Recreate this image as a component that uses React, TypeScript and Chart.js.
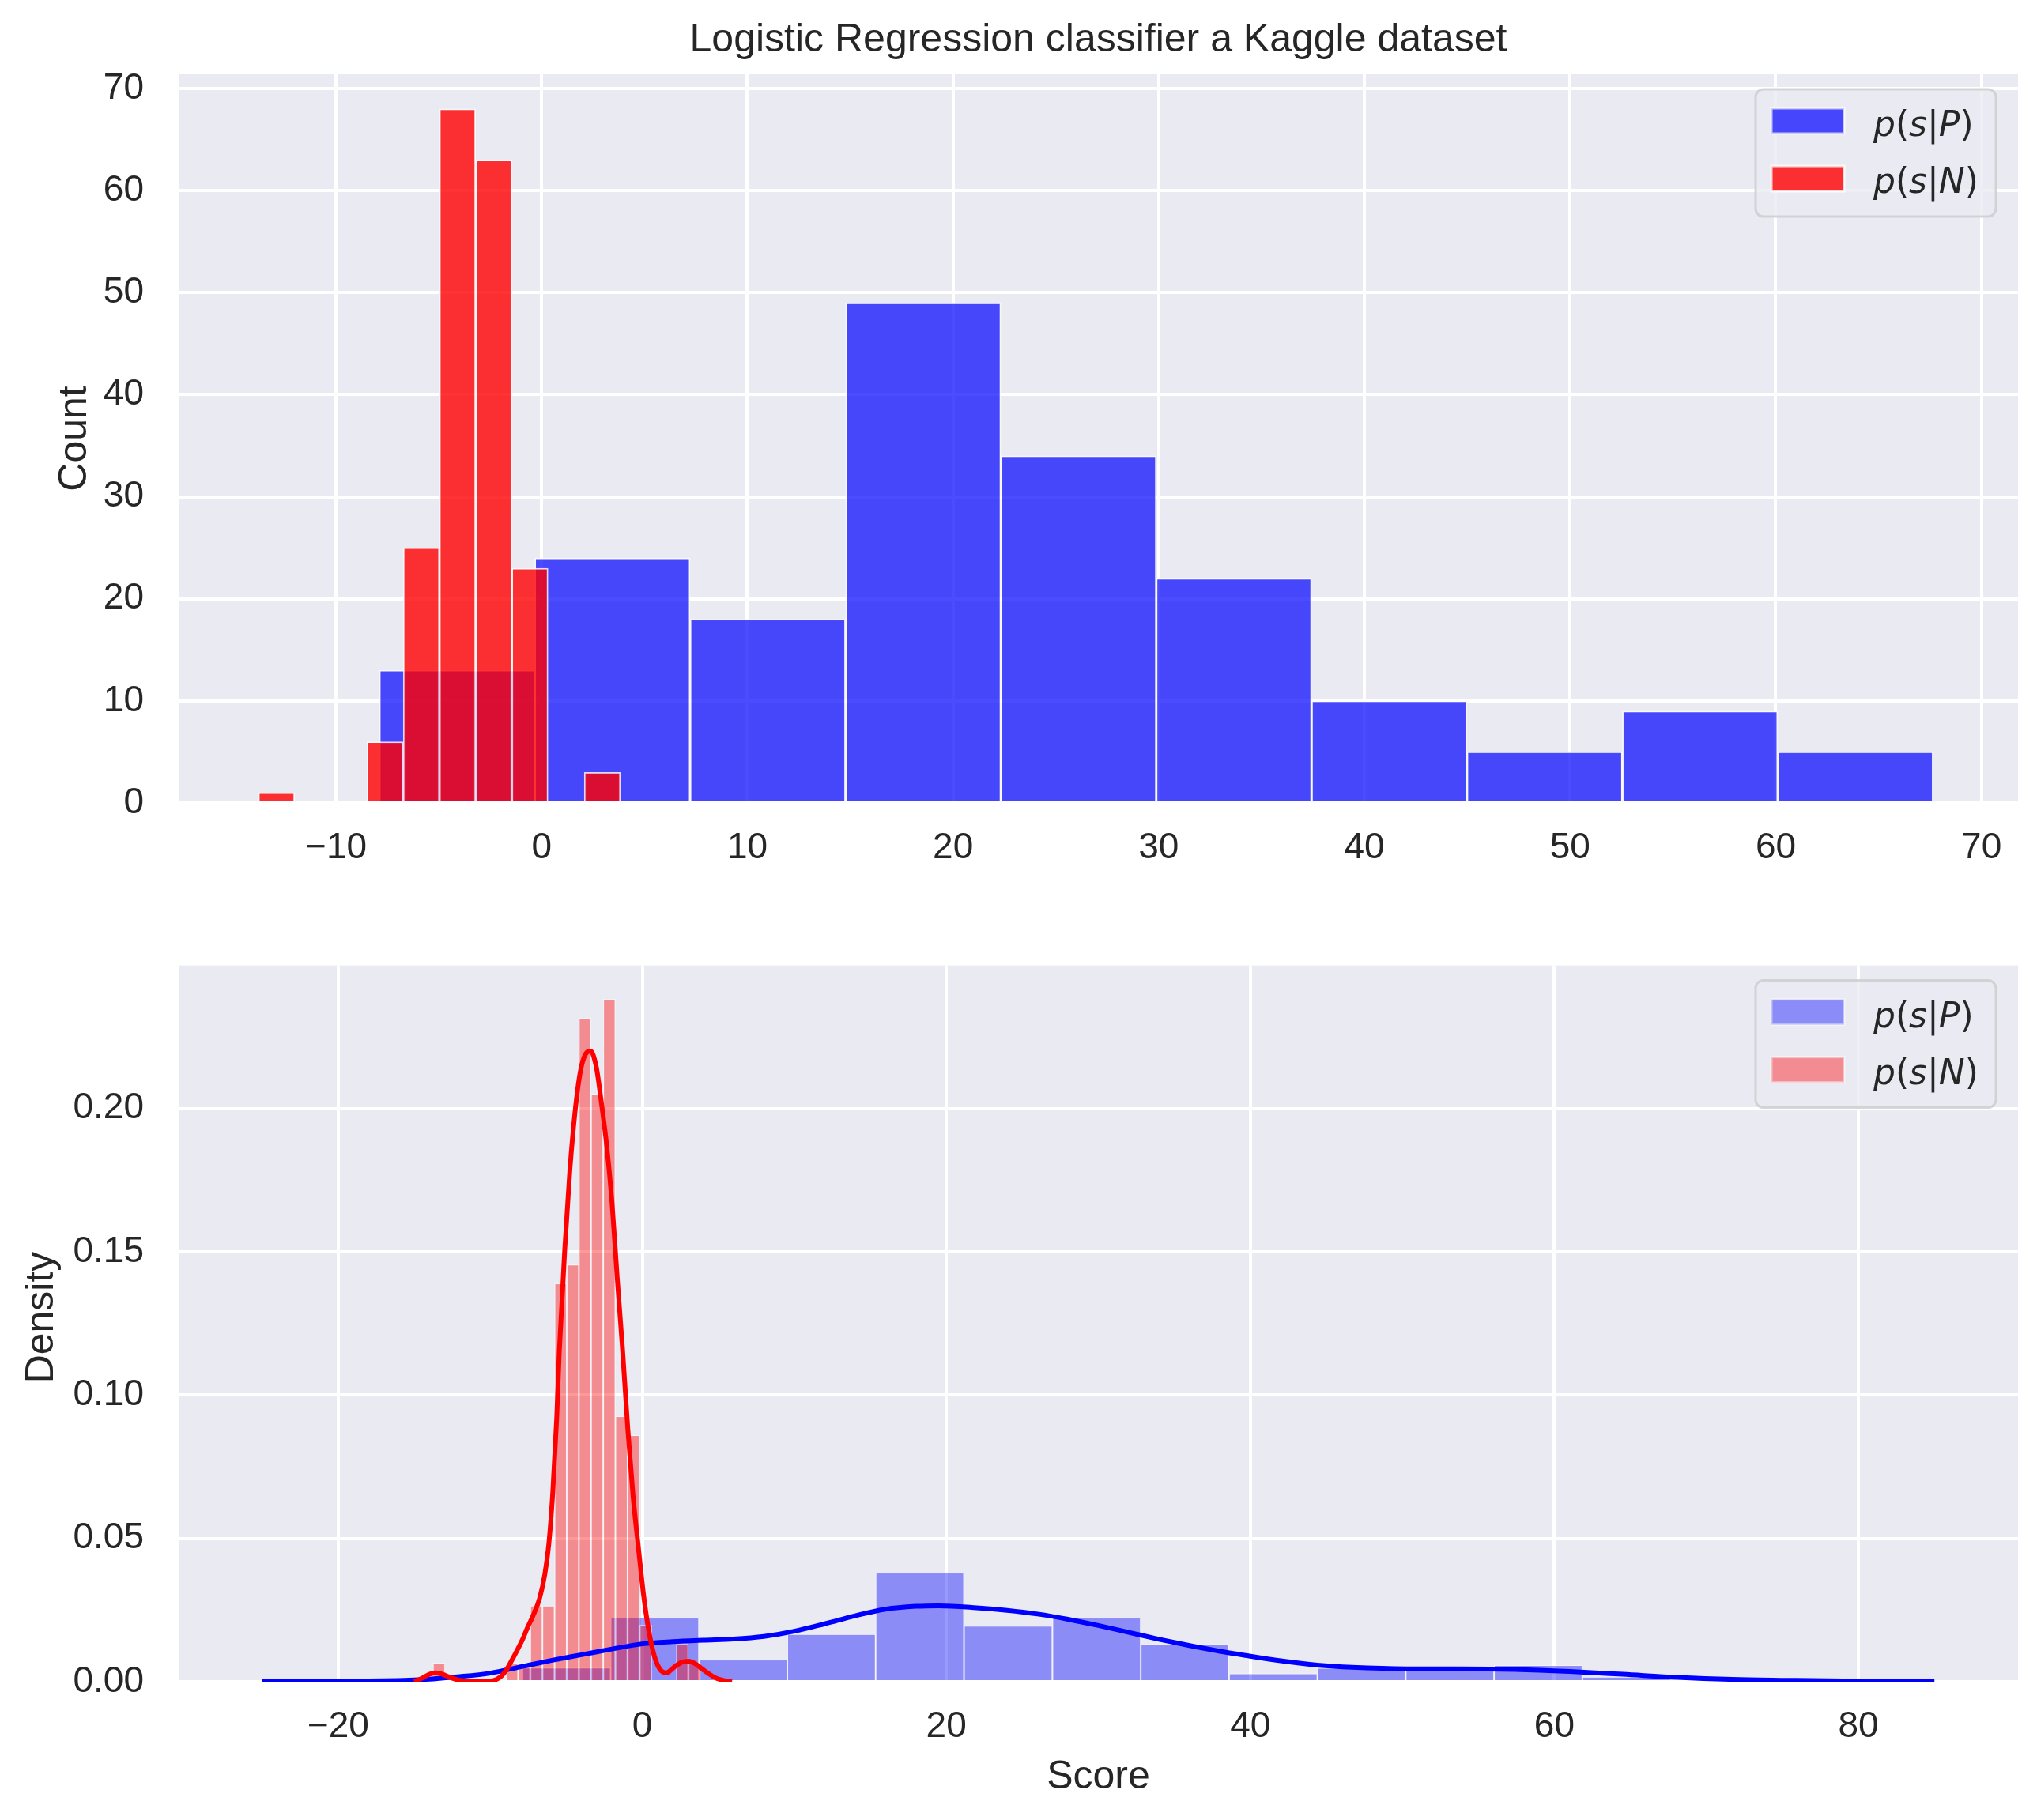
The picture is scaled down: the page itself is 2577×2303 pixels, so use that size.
import { useEffect, useRef } from "react";
import { Chart, registerables } from "chart.js";

Chart.register(...registerables);

// ---- top panel: histplot counts ----
const topBlueEdges = [-7.89, -0.34, 7.22, 14.77, 22.33, 29.88, 37.43, 44.99, 52.54, 60.1, 67.65];
const topBlueCounts = [13, 24, 18, 49, 34, 22, 10, 5, 9, 5];
const topRedEdges = [-13.77, -12.01, -10.25, -8.49, -6.73, -4.97, -3.21, -1.45, 0.31, 2.07, 3.83];
const topRedCounts = [1, 0, 0, 6, 25, 68, 63, 23, 0, 3];
const topXTicks = [-10, 0, 10, 20, 30, 40, 50, 60, 70];
const topYTicks = [0, 10, 20, 30, 40, 50, 60, 70];

// ---- bottom panel: distplot densities + kde ----
const botBlueEdges = [-7.89, -2.08, 3.73, 9.54, 15.35, 21.16, 26.98, 32.79, 38.6, 44.41, 50.22, 56.03, 61.84, 67.65];
const botBlueDensity = [0.0049, 0.0223, 0.0077, 0.0166, 0.038, 0.0195, 0.0223, 0.0131, 0.0029, 0.0048, 0.0045, 0.0058, 0.0017];
const botRedEdges = [
  -13.77, -12.97, -12.17, -11.37, -10.57, -9.77, -8.97, -8.17, -7.37, -6.57, -5.77, -4.97,
  -4.17, -3.37, -2.57, -1.77, -0.97, -0.17, 0.63, 1.43, 2.23, 3.03, 3.83,
];
const botRedDensity = [
  0.0066, 0, 0, 0, 0, 0, 0.0066, 0.0066, 0.0265, 0.0265, 0.1389, 0.1455, 0.2315, 0.205, 0.2381,
  0.0926, 0.086, 0.0198, 0, 0, 0.0132, 0.0066,
];
const blueKdeX = [-25, -20, -15, -12, -10, -8, -6, -4, -2, 0, 2, 4, 6, 8, 10, 12, 14, 16, 18, 19.5, 22, 24, 26, 28, 30, 32, 34, 36, 38, 40, 42, 44.4, 46.7, 50.3, 53.8, 57.4, 61, 64.5, 68.1, 71.7, 75.3, 80, 85];
const blueKdeY = [0, 0.0002, 0.0006, 0.0018, 0.003, 0.0052, 0.0074, 0.0094, 0.0114, 0.0132, 0.014, 0.0145, 0.0149, 0.0158, 0.0176, 0.0202, 0.023, 0.0253, 0.0263, 0.0265, 0.0258, 0.0249, 0.0236, 0.0218, 0.0196, 0.0172, 0.0148, 0.0126, 0.0106, 0.0089, 0.0073, 0.0058, 0.005, 0.0045, 0.0045, 0.0043, 0.0036, 0.0026, 0.0015, 0.0008, 0.0005, 0.0002, 0.0001];
const redKdeX = [-15, -14.5, -14, -13.6, -13.2, -12.6, -12, -11, -10, -9.6, -9.27, -8.93, -8.58, -8.23, -7.89, -7.54, -7.19, -6.76, -6.41, -6.15, -5.89, -5.63, -5.46, -5.11, -4.77, -4.42, -4.07, -3.73, -3.41, -3.03, -2.69, -2.34, -1.99, -1.65, -1.3, -0.95, -0.61, -0.26, 0.09, 0.43, 0.78, 1.13, 1.56, 2.17, 2.6, 3.03, 3.45, 3.9, 4.77, 5.4, 5.9];
const redKdeY = [0, 0.0012, 0.0026, 0.0031, 0.0027, 0.0014, 0.0005, 0.0001, 0.0002, 0.0008, 0.002, 0.0042, 0.0075, 0.011, 0.0146, 0.019, 0.023, 0.029, 0.0375, 0.048, 0.066, 0.092, 0.115, 0.15, 0.178, 0.199, 0.213, 0.219, 0.22, 0.2146, 0.202, 0.187, 0.167, 0.141, 0.116, 0.088, 0.065, 0.047, 0.03, 0.0177, 0.0092, 0.0046, 0.0031, 0.0054, 0.0068, 0.0072, 0.0064, 0.0046, 0.0015, 0.0004, 0];
const botXTicks = [-20, 0, 20, 40, 60, 80];
const botYTicks = [0, 0.05, 0.1, 0.15, 0.2];

const SANS = '"Liberation Sans", Arial, sans-serif';
const MATH = '"DejaVu Sans", sans-serif';
const INK = "#262626";

const bins = (edges: number[], heights: number[]) =>
  heights
    .map((y, i) => ({ x: (edges[i] + edges[i + 1]) / 2, y }))
    .filter((p) => p.y > 0);

const curve = (xs: number[], ys: number[]) => xs.map((x, i) => ({ x, y: ys[i] }));

const fmt = (v: number, digits: number) => (v < 0 ? "\u2212" : "") + Math.abs(v).toFixed(digits);

const panelBackground = {
  id: "panelBackground",
  beforeDraw(chart: any) {
    const { ctx, chartArea: a } = chart;
    ctx.save();
    ctx.fillStyle = "#EAEAF2";
    ctx.fillRect(a.left, a.top, a.right - a.left, a.bottom - a.top);
    ctx.restore();
  },
};

type Label = { text: string; x: number; y: number; size: number; rotate?: boolean };

function textPlugin(labels: Label[]) {
  return {
    id: "figureText",
    afterDraw(chart: any) {
      const ctx = chart.ctx;
      ctx.save();
      ctx.fillStyle = INK;
      ctx.textAlign = "center";
      ctx.textBaseline = "alphabetic";
      for (const l of labels) {
        ctx.font = `${l.size}px ${SANS}`;
        ctx.save();
        ctx.translate(l.x, l.y);
        if (l.rotate) ctx.rotate(-Math.PI / 2);
        ctx.fillText(l.text, 0, 0);
        ctx.restore();
      }
      ctx.restore();
    },
  };
}

type LegendItem = { cond: string; fill: string; edge: string };

function legendPlugin(items: LegendItem[]) {
  return {
    id: "mathLegend",
    afterDraw(chart: any) {
      const { ctx, chartArea: a } = chart;
      const w = 304;
      const h = 161;
      const left = a.right - 28 - w;
      const top = a.top + 19;
      ctx.save();
      ctx.beginPath();
      ctx.roundRect(left, top, w, h, 10);
      ctx.fillStyle = "rgba(234,234,242,0.8)";
      ctx.fill();
      ctx.lineWidth = 3;
      ctx.strokeStyle = "rgba(204,204,204,0.8)";
      ctx.stroke();
      items.forEach((it, i) => {
        const py = top + 24 + i * 73;
        ctx.fillStyle = it.fill;
        ctx.fillRect(left + 20, py, 92, 32);
        ctx.lineWidth = 3;
        ctx.strokeStyle = it.edge;
        ctx.strokeRect(left + 20, py, 92, 32);
        const parts = [
          { t: "p", it: true },
          { t: "(", it: false },
          { t: "s", it: true },
          { t: "|", it: false },
          { t: it.cond, it: true },
          { t: ")", it: false },
        ];
        let cx = left + 149;
        const by = top + 59 + i * 72;
        ctx.fillStyle = INK;
        ctx.textAlign = "left";
        ctx.textBaseline = "alphabetic";
        for (const p of parts) {
          ctx.font = `${p.it ? "italic " : ""}44px ${MATH}`;
          ctx.fillText(p.t, cx, by);
          cx += ctx.measureText(p.t).width;
        }
      });
      ctx.restore();
    },
  };
}

function axes(opts: {
  xMin: number; xMax: number; xTicks: number[]; xHeight: number;
  yMax: number; yTicks: number[]; yDigits: number;
}) {
  const tickFont = { family: SANS, size: 46 };
  const grid = { color: "#ffffff", lineWidth: 4, drawTicks: false, offset: false };
  const setX = (s: any) => { s.ticks = opts.xTicks.map((value) => ({ value })); };
  return {
    x: {
      type: "linear", min: opts.xMin, max: opts.xMax, offset: false,
      afterBuildTicks: setX,
      afterFit: (s: any) => { s.height = opts.xHeight; },
      grid, border: { display: false },
      ticks: { padding: 30, color: INK, font: tickFont, maxRotation: 0, autoSkip: false, callback: (v: any) => fmt(Number(v), 0) },
    },
    xr: {
      type: "linear", display: false, min: opts.xMin, max: opts.xMax, offset: false,
      grid: { offset: false }, afterBuildTicks: setX,
    },
    y: {
      type: "linear", min: 0, max: opts.yMax,
      afterBuildTicks: (s: any) => { s.ticks = opts.yTicks.map((value) => ({ value })); },
      afterFit: (s: any) => { s.width = 226; },
      grid, border: { display: false },
      ticks: { padding: 44, color: INK, font: tickFont, callback: (v: any) => fmt(Number(v), opts.yDigits) },
    },
  };
}

const barBase = {
  type: "bar",
  grouped: false,
  barPercentage: 1,
  categoryPercentage: 1,
  borderSkipped: "start",
  yAxisID: "y",
};

export default function App() {
  const topRef = useRef<HTMLCanvasElement | null>(null);
  const botRef = useRef<HTMLCanvasElement | null>(null);

  useEffect(() => {
    const charts: Chart[] = [];
    const common = {
      responsive: false,
      animation: false,
      devicePixelRatio: 1,
      events: [],
      plugins: { legend: { display: false }, tooltip: { enabled: false } },
    };

    if (topRef.current) {
      charts.push(
        new Chart(topRef.current, {
          type: "bar",
          data: {
            datasets: [
              {
                ...barBase, xAxisID: "x", order: 2,
                data: bins(topBlueEdges, topBlueCounts),
                backgroundColor: "rgba(0,0,255,0.7)", borderColor: "rgba(255,255,255,0.7)", borderWidth: 1.75,
              },
              {
                ...barBase, xAxisID: "xr", order: 1,
                data: bins(topRedEdges, topRedCounts),
                backgroundColor: "rgba(255,0,0,0.8)", borderColor: "rgba(255,255,255,0.8)", borderWidth: 1.75,
              },
            ],
          } as any,
          options: {
            ...common,
            layout: { padding: { left: 0, right: 24, top: 94, bottom: 0 } },
            scales: axes({ xMin: -17.65, xMax: 71.78, xTicks: topXTicks, xHeight: 134, yMax: 71.4, yTicks: topYTicks, yDigits: 0 }),
          } as any,
          plugins: [
            panelBackground,
            legendPlugin([
              { cond: "P", fill: "rgba(0,0,255,0.7)", edge: "rgba(255,255,255,0.7)" },
              { cond: "N", fill: "rgba(255,0,0,0.8)", edge: "rgba(255,255,255,0.8)" },
            ]),
            textPlugin([
              { text: "Logistic Regression classifier a Kaggle dataset", x: 1389.5, y: 65, size: 50 },
              { text: "Count", x: 109, y: 555, size: 50, rotate: true },
            ]),
          ],
        } as any)
      );
    }

    if (botRef.current) {
      charts.push(
        new Chart(botRef.current, {
          type: "bar",
          data: {
            datasets: [
              {
                type: "line", xAxisID: "x", yAxisID: "y", order: 0,
                data: curve(redKdeX, redKdeY),
                borderColor: "#ff0000", borderWidth: 6, pointRadius: 0, cubicInterpolationMode: "monotone", fill: false,
              },
              {
                type: "line", xAxisID: "x", yAxisID: "y", order: 1,
                data: curve(blueKdeX, blueKdeY),
                borderColor: "#0000ff", borderWidth: 6, pointRadius: 0, cubicInterpolationMode: "monotone", fill: false,
              },
              {
                ...barBase, xAxisID: "xr", order: 2,
                data: bins(botRedEdges, botRedDensity),
                backgroundColor: "rgba(255,0,0,0.4)", borderColor: "rgba(255,255,255,0.45)", borderWidth: 1.25,
              },
              {
                ...barBase, xAxisID: "x", order: 3,
                data: bins(botBlueEdges, botBlueDensity),
                backgroundColor: "rgba(0,0,255,0.4)", borderColor: "rgba(255,255,255,0.45)", borderWidth: 1.25,
              },
            ],
          } as any,
          options: {
            ...common,
            layout: { padding: { left: 0, right: 24, top: 56, bottom: 0 } },
            scales: axes({ xMin: -30.5, xMax: 90.5, xTicks: botXTicks, xHeight: 175, yMax: 0.2499, yTicks: botYTicks, yDigits: 2 }),
          } as any,
          plugins: [
            panelBackground,
            legendPlugin([
              { cond: "P", fill: "rgba(0,0,255,0.4)", edge: "rgba(255,255,255,0.45)" },
              { cond: "N", fill: "rgba(255,0,0,0.4)", edge: "rgba(255,255,255,0.45)" },
            ]),
            textPlugin([
              { text: "Density", x: 67, y: 517, size: 50, rotate: true },
              { text: "Score", x: 1389.5, y: 1113, size: 50 },
            ]),
          ],
        } as any)
      );
    }

    return () => {
      charts.forEach((c) => c.destroy());
    };
  }, []);

  return (
    <div style={{ position: "absolute", left: 0, top: 0, width: 2577, height: 2303, background: "#ffffff" }}>
      <canvas
        ref={topRef}
        width={2577}
        height={1150}
        style={{ position: "absolute", left: 0, top: 0, width: 2577, height: 1150 }}
      />
      <canvas
        ref={botRef}
        width={2577}
        height={1153}
        style={{ position: "absolute", left: 0, top: 1150, width: 2577, height: 1153 }}
      />
    </div>
  );
}
